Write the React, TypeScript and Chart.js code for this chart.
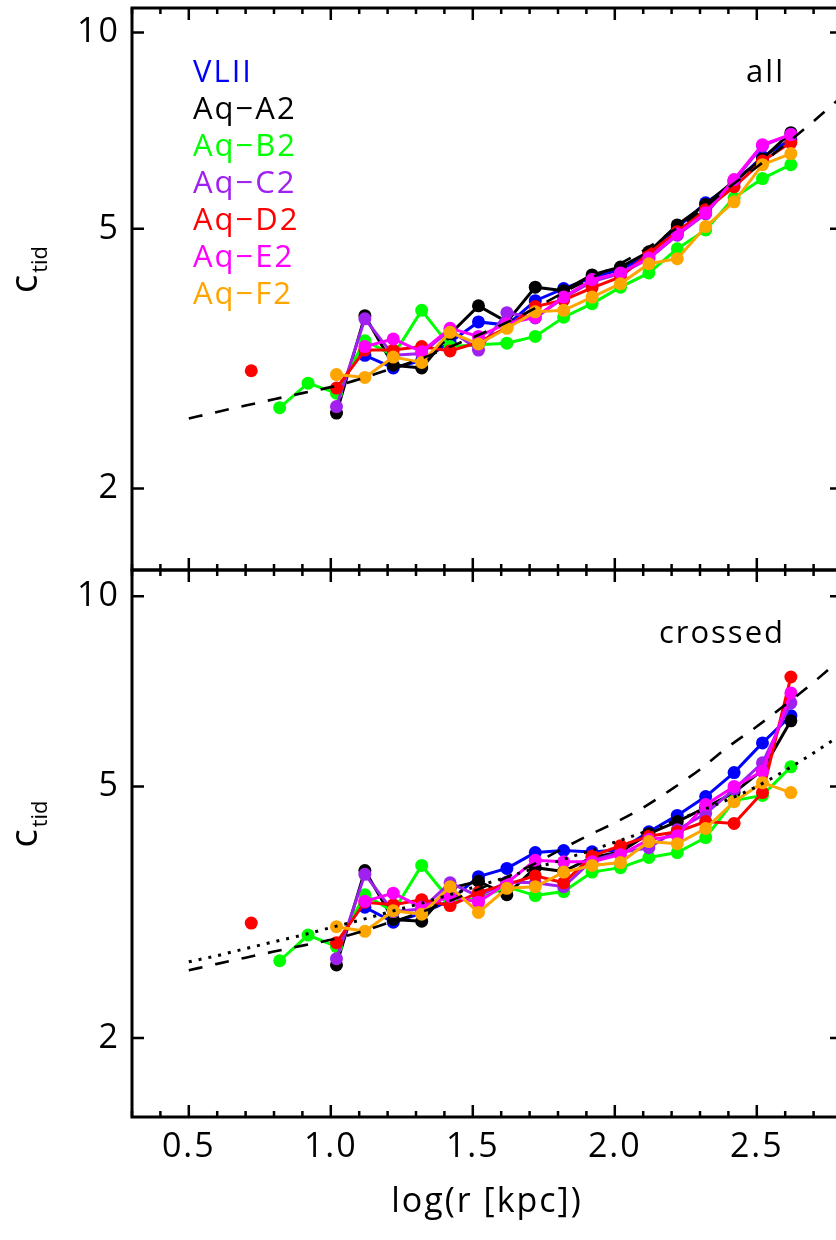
import React, { useEffect, useRef } from "react";
import { Chart, registerables } from "chart.js";
Chart.register(...registerables);

// ---------- data ----------
const xBins = [0.72, 0.82, 0.92, 1.02, 1.12, 1.22, 1.32, 1.42, 1.52, 1.62, 1.72, 1.82, 1.92, 2.02, 2.12, 2.22, 2.32, 2.42, 2.52, 2.62];

const seriesNames = ["VLII", "Aq\u2212A2", "Aq\u2212B2", "Aq\u2212C2", "Aq\u2212D2", "Aq\u2212E2", "Aq\u2212F2"];
const seriesColors = ["#0000ff", "#000000", "#00ff00", "#a020f0", "#ff0000", "#ff00ff", "#ffa500"];

// panel "all"
const allVLII = [null, null, null, null, 3.20, 3.06, 3.14, 3.35, 3.60, 3.56, 3.88, 4.05, 4.21, 4.33, 4.56, 5.02, 5.48, 5.88, 6.45, 6.85];
const allA2 = [null, null, null, 2.61, 3.68, 3.09, 3.06, 3.45, 3.81, 3.60, 4.07, 4.02, 4.25, 4.37, 4.61, 5.07, 5.45, 5.92, 6.40, 7.02];
const allB2 = [null, 2.66, 2.90, 2.80, 3.37, 3.20, 3.75, 3.30, 3.32, 3.34, 3.42, 3.66, 3.84, 4.07, 4.28, 4.66, 4.98, 5.58, 5.97, 6.27];
const allC2 = [null, null, null, 2.67, 3.64, 3.20, 3.22, 3.50, 3.26, 3.72, 3.65, 3.92, 4.15, 4.27, 4.50, 4.89, 5.27, 5.92, 6.70, 6.98];
const allD2 = [3.03, null, null, 2.85, 3.26, 3.26, 3.30, 3.25, 3.35, 3.53, 3.80, 3.89, 4.06, 4.22, 4.59, 4.95, 5.35, 5.80, 6.35, 6.78];
const allE2 = [null, null, null, null, 3.30, 3.39, 3.24, 3.52, 3.42, 3.58, 3.66, 3.93, 4.18, 4.28, 4.51, 4.91, 5.29, 5.95, 6.73, 6.97];
const allF2 = [null, null, null, 2.99, 2.96, 3.18, 3.12, 3.47, 3.33, 3.52, 3.73, 3.75, 3.93, 4.12, 4.42, 4.50, 5.04, 5.50, 6.27, 6.52];

// panel "crossed"
const crossedVLII = [null, null, null, null, 3.22, 3.05, 3.15, 3.30, 3.60, 3.71, 3.93, 3.96, 3.94, 3.97, 4.24, 4.50, 4.82, 5.26, 5.86, 6.47];
const crossedA2 = [null, null, null, 2.61, 3.68, 3.08, 3.06, 3.45, 3.54, 3.37, 3.72, 3.67, 3.86, 3.94, 4.21, 4.40, 4.63, 4.89, 5.31, 6.35];
const crossedB2 = [null, 2.65, 2.91, 2.79, 3.37, 3.17, 3.75, 3.30, 3.32, 3.47, 3.36, 3.41, 3.66, 3.72, 3.86, 3.93, 4.15, 4.75, 4.84, 5.37];
const crossedC2 = [null, null, null, 2.67, 3.63, 3.17, 3.20, 3.52, 3.35, 3.53, 3.52, 3.47, 3.82, 3.93, 4.00, 4.27, 4.53, 4.95, 5.45, 6.78];
const crossedD2 = [3.04, null, null, 2.83, 3.28, 3.25, 3.31, 3.24, 3.40, 3.50, 3.61, 3.52, 3.88, 4.03, 4.17, 4.24, 4.40, 4.37, 4.89, 7.45];
const crossedE2 = [null, null, null, null, 3.29, 3.39, 3.22, 3.35, 3.28, 3.52, 3.82, 3.80, 3.80, 3.90, 4.12, 4.18, 4.68, 5.00, 5.28, 7.03];
const crossedF2 = [null, null, null, 3.00, 2.95, 3.18, 3.14, 3.47, 3.16, 3.45, 3.47, 3.66, 3.75, 3.79, 4.09, 4.06, 4.29, 4.73, 5.07, 4.89];

// fit curves
const fitX = [0.5, 0.6, 0.7, 0.8, 0.9, 1.0, 1.1, 1.2, 1.3, 1.4, 1.5, 1.6, 1.7, 1.8, 1.9, 2.0, 2.1, 2.2, 2.3, 2.4, 2.5, 2.6, 2.7, 2.8];
const fitDashed = [2.56, 2.62, 2.68, 2.74, 2.80, 2.86, 2.94, 3.04, 3.14, 3.27, 3.41, 3.56, 3.74, 3.95, 4.17, 4.38, 4.63, 4.95, 5.32, 5.78, 6.22, 6.73, 7.31, 7.98];
const fitDotted = [2.64, 2.70, 2.77, 2.84, 2.91, 2.99, 3.07, 3.16, 3.25, 3.35, 3.46, 3.57, 3.69, 3.81, 3.94, 4.08, 4.23, 4.39, 4.57, 4.77, 5.00, 5.30, 5.65, 6.05];

// axes
const yTickValues = [2, 5, 10];
const xTickLabels = [0.5, 1.0, 1.5, 2.0, 2.5];
const xMinorTicks = [0.3, 0.4, 0.5, 0.6, 0.7, 0.8, 0.9, 1.0, 1.1, 1.2, 1.3, 1.4, 1.5, 1.6, 1.7, 1.8, 1.9, 2.0, 2.1, 2.2, 2.3, 2.4, 2.5, 2.6, 2.7, 2.8];
const xMin = 0.3;
const xMax = 2.8;
const yMin = 1.5;
const yMaxTop = 10.9;
const yMaxBottom = 11;

const FONT = "'Open Sans', 'Liberation Sans', sans-serif";

type Spec = {
  series: (number | null)[][];
  dotted: boolean;
  label: string;
  legend: boolean;
  showX: boolean;
  yMax: number;
  width: number;
  height: number;
  padTop: number;
  xHeight: number;
};

const topSpec: Spec = {
  series: [allVLII, allA2, allB2, allC2, allD2, allE2, allF2],
  dotted: false, label: "all", legend: true, showX: false, yMax: yMaxTop,
  width: 860, height: 580, padTop: 8, xHeight: 10,
};
const bottomSpec: Spec = {
  series: [crossedVLII, crossedA2, crossedB2, crossedC2, crossedD2, crossedE2, crossedF2],
  dotted: true, label: "crossed", legend: false, showX: true, yMax: yMaxBottom,
  width: 860, height: 680, padTop: 10, xHeight: 123,
};

function zeroPad(s: any) {
  s.paddingTop = 0;
  s.paddingBottom = 0;
  s.paddingLeft = 0;
  s.paddingRight = 0;
}

function buildConfig(p: Spec): any {
  const datasets: any[] = [];
  datasets.push({
    label: "fit",
    data: fitX.map((x, j) => ({ x, y: fitDashed[j] })),
    borderColor: "#000", borderWidth: 2.6, borderDash: [14, 13], pointRadius: 0,
    cubicInterpolationMode: "monotone", order: -2,
  });
  if (p.dotted) {
    datasets.push({
      label: "fit2",
      data: fitX.map((x, j) => ({ x, y: fitDotted[j] })),
      borderColor: "#000", borderWidth: 3, borderDash: [3, 7], pointRadius: 0,
      cubicInterpolationMode: "monotone", order: -1,
    });
  }
  p.series.forEach((vals, i) => {
    datasets.push({
      label: seriesNames[i],
      data: xBins.map((x, j) => ({ x, y: vals[j] })),
      borderColor: seriesColors[i],
      backgroundColor: seriesColors[i],
      pointBackgroundColor: seriesColors[i],
      pointBorderWidth: 0,
      pointRadius: 6.5,
      borderWidth: 3,
      spanGaps: false,
      order: seriesNames.length - i,
    });
  });

  const decor = {
    id: "decor",
    beforeDraw(chart: any) {
      (chart.ctx as any).letterSpacing = "2px";
    },
    afterDraw(chart: any) {
      const { ctx, chartArea: a, scales } = chart;
      const xs = scales.x, ys = scales.y;
      ctx.save();
      ctx.strokeStyle = "#000";
      ctx.lineWidth = 2.5;
      for (const t of xMinorTicks) {
        const px = xs.getPixelForValue(t);
        const major = xTickLabels.some((m) => Math.abs(m - t) < 1e-6);
        const len = major ? 12 : 6;
        ctx.beginPath();
        ctx.moveTo(px, a.top); ctx.lineTo(px, a.top + len);
        ctx.moveTo(px, a.bottom); ctx.lineTo(px, a.bottom - len);
        ctx.stroke();
      }
      for (const t of yTickValues) {
        const py = ys.getPixelForValue(t);
        ctx.beginPath();
        ctx.moveTo(a.left, py); ctx.lineTo(a.left + 12, py);
        ctx.moveTo(a.right, py); ctx.lineTo(a.right - 12, py);
        ctx.stroke();
      }
      ctx.lineWidth = 3;
      ctx.strokeRect(a.left, a.top, a.right - a.left, a.bottom - a.top);

      // y label c_tid
      const cy = (a.top + a.bottom) / 2 + 4;
      ctx.save();
      ctx.translate(37, cy);
      ctx.rotate(-Math.PI / 2);
      ctx.fillStyle = "#000";
      ctx.textBaseline = "alphabetic";
      ctx.textAlign = "left";
      ctx.letterSpacing = "0px";
      ctx.font = `38px ${FONT}`;
      ctx.fillText("c", 0, 0);
      const cw = ctx.measureText("c").width;
      ctx.font = `22px ${FONT}`;
      ctx.fillText("tid", cw + 2, 10);
      ctx.restore();

      // panel label
      ctx.fillStyle = "#000";
      ctx.font = `31px ${FONT}`;
      ctx.letterSpacing = "2px";
      ctx.textAlign = "right";
      ctx.textBaseline = "alphabetic";
      ctx.fillText(p.label, a.left + 653, a.top + (p.legend ? 74 : 73));

      if (p.legend) {
        ctx.textAlign = "left";
        ctx.font = `31px ${FONT}`;
        seriesNames.forEach((n, i) => {
          ctx.fillStyle = seriesColors[i];
          ctx.fillText(n, a.left + 61, a.top + 74 + 37 * i);
        });
      }
      ctx.restore();
    },
  };

  return {
    type: "line",
    data: { datasets },
    options: {
      responsive: false,
      animation: false,
      layout: { autoPadding: false, padding: { top: p.padTop, right: p.width - 842, left: 0, bottom: 0 } },
      plugins: { legend: { display: false }, tooltip: { enabled: false } },
      scales: {
        x: {
          type: "linear",
          min: xMin,
          max: xMax,
          afterFit: (s: any) => { s.height = p.xHeight; zeroPad(s); },
          afterBuildTicks: (s: any) => { s.ticks = xTickLabels.map((v) => ({ value: v })); },
          grid: { display: false, drawTicks: false },
          border: { display: false },
          ticks: {
            display: p.showX,
            autoSkip: false,
            maxRotation: 0,
            padding: 10,
            color: "#000",
            font: { family: FONT, size: 34 },
            callback: (v: any) => Number(v).toFixed(1),
          },
          title: {
            display: p.showX,
            text: "log(r [kpc])",
            color: "#000",
            font: { family: FONT, size: 34 },
            padding: { top: 0, bottom: 17 },
          },
        },
        y: {
          type: "logarithmic",
          min: yMin,
          max: p.yMax,
          afterFit: (s: any) => { s.width = 132; zeroPad(s); },
          afterBuildTicks: (s: any) => { s.ticks = yTickValues.map((v) => ({ value: v })); },
          grid: { display: false, drawTicks: false },
          border: { display: false },
          ticks: {
            autoSkip: false,
            padding: 12,
            color: "#000",
            font: { family: FONT, size: 34 },
            callback: (v: any) => String(v),
          },
        },
      },
    },
    plugins: [decor],
  };
}

export default function App() {
  const topRef = useRef<HTMLCanvasElement>(null);
  const botRef = useRef<HTMLCanvasElement>(null);
  useEffect(() => {
    const c1 = new Chart(topRef.current as HTMLCanvasElement, buildConfig(topSpec));
    const c2 = new Chart(botRef.current as HTMLCanvasElement, buildConfig(bottomSpec));
    return () => { c1.destroy(); c2.destroy(); };
  }, []);
  return (
    <div style={{ position: "fixed", left: 0, top: 0, width: 836, height: 1240, overflow: "hidden", background: "#fff" }}>
      <canvas ref={topRef} width={topSpec.width} height={topSpec.height}
        style={{ position: "absolute", left: 0, top: 0, width: topSpec.width, height: topSpec.height }} />
      <canvas ref={botRef} width={bottomSpec.width} height={bottomSpec.height}
        style={{ position: "absolute", left: 0, top: 560, width: bottomSpec.width, height: bottomSpec.height }} />
    </div>
  );
}
